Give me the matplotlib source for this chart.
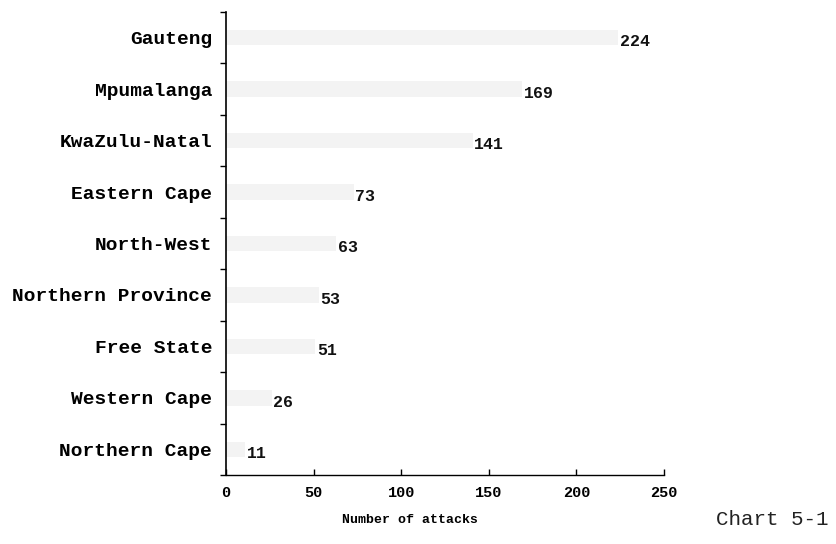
import numpy as np
import matplotlib.pyplot as plt

# data (top to bottom as in the chart)
provinces = ["Gauteng", "Mpumalanga", "KwaZulu-Natal", "Eastern Cape", "North-West",
             "Northern Province", "Free State", "Western Cape", "Northern Cape"]
attacks = [224, 169, 141, 73, 63, 53, 51, 26, 11]
xticks = [0, 50, 100, 150, 200, 250]

MONO = "Liberation Mono"

fig = plt.figure(figsize=(8.36, 5.44), dpi=100)
ax = fig.add_axes([0.2703, 0.1268, 0.5240, 0.8512])

y = np.arange(len(provinces))[::-1]
ax.barh(y, attacks, height=0.3, color="#f3f3f3", edgecolor="none")

# value labels
for yi, v in zip(y, attacks):
    ax.annotate(str(v), (v, yi), xytext=(1, -3), textcoords="offset points",
                ha="left", va="center", fontsize=12, fontweight="bold",
                family=MONO, color="#111111")

ax.set_xlim(0, 250)
ax.set_ylim(-0.5, len(provinces) - 0.5)
ax.set_xticks(xticks)
ax.set_xticklabels([str(t) for t in xticks], family=MONO, fontsize=11, fontweight="bold")
ax.set_yticks(y)
ax.set_yticklabels(provinces, family=MONO, fontsize=14, fontweight="bold")
ax.set_yticks(np.arange(-0.5, len(provinces), 1.0), minor=True)

ax.tick_params(axis="y", which="major", length=0, pad=10)
ax.tick_params(axis="y", which="minor", length=4, direction="out", width=1)
ax.tick_params(axis="x", direction="in", length=4, pad=8, width=1)

for s in ["top", "right"]:
    ax.spines[s].set_visible(False)
ax.spines["left"].set_linewidth(1.2)
ax.spines["bottom"].set_linewidth(1.0)
ax.spines["bottom"].set_linestyle((0, (4, 1)))

ax.set_xlabel("Number of attacks", family=MONO, fontsize=9.5, fontweight="bold")
ax.xaxis.set_label_coords(0.42, -0.085)

fig.text(0.856, 0.035, "Chart 5-1", family=MONO, fontsize=15, color="#222222")

fig.savefig("out.png", dpi=100)
